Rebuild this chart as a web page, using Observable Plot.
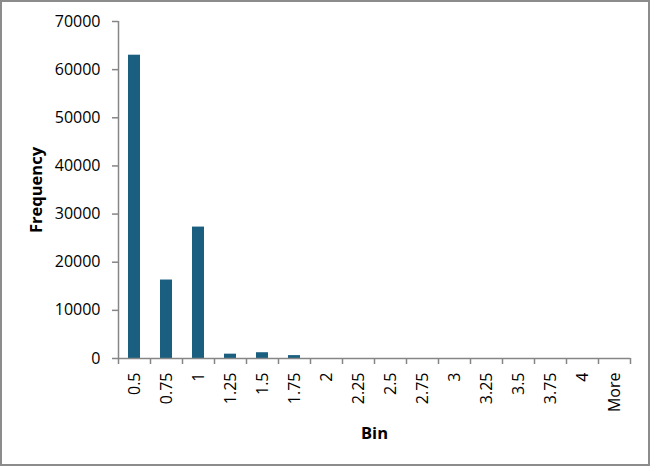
<!DOCTYPE html>
<html><head><meta charset="utf-8">
<script src="https://cdn.jsdelivr.net/npm/d3@7"></script>
<script src="https://cdn.jsdelivr.net/npm/@observablehq/plot@0.6"></script>
<style>
body{margin:0;background:#fff;}
#wrap{position:relative;width:650px;height:466px;}
#border{position:absolute;left:0;top:0;right:0;bottom:0;border:2px solid #8c8c8c;pointer-events:none;box-sizing:border-box;}
svg{font-family:"Open Sans","Noto Sans",sans-serif;}
</style></head>
<body><div id="wrap"><div id="border"></div></div>
<script>
const bins = ["0.5","0.75","1","1.25","1.5","1.75","2","2.25","2.5","2.75","3","3.25","3.5","3.75","4","More"];
const frequency = [63000,16300,27300,900,1200,600,0,0,0,0,0,0,0,0,0,0];
const yTicks = [0,10000,20000,30000,40000,50000,60000,70000];
const data = bins.map((b,i)=>({bin:b, freq:frequency[i]}));
const axisColor = "#868686";
const chart = Plot.plot({
  width:650, height:466,
  marginLeft:118, marginRight:20, marginTop:21, marginBottom:108,
  style:{fontSize:"16px", color:"#000", background:"transparent", fontFamily:'"Open Sans","Noto Sans",sans-serif'},
  x:{domain:bins, padding:0, label:null},
  y:{domain:[0,70000], label:null},
  marks:[
    Plot.barY(data,{x:"bin", y:"freq", fill:"#1a5f80", insetLeft:10, insetRight:10}),
    Plot.ruleY([0],{stroke:axisColor, strokeWidth:1.5}),
    Plot.ruleX(bins,{x:d=>d, y1:-1250, y2:d=>d===bins[0]?70000:0, dx:-16, stroke:axisColor, strokeWidth:1.5}),
    Plot.ruleX([bins[bins.length-1]],{x:d=>d, y1:-1250, y2:0, dx:16, stroke:axisColor, strokeWidth:1.5}),
    Plot.axisY({ticks:yTicks, tickFormat:d=>String(d), tickSize:6, tickPadding:12, stroke:axisColor, strokeWidth:1.5, fontSize:16, label:null}),
    Plot.axisX({tickSize:0, tickRotate:-90, tickPadding:14, fontSize:16, label:null}),
    Plot.text(["Frequency"],{frameAnchor:"left", dx:-82, rotate:-90, textAnchor:"middle", fontWeight:"bold", fontSize:16.5, text:d=>d}),
    Plot.text(["Bin"],{frameAnchor:"bottom", dy:80, fontWeight:"bold", fontSize:16.5, text:d=>d})
  ]
});
document.getElementById("wrap").prepend(chart);
</script>
</body></html>
